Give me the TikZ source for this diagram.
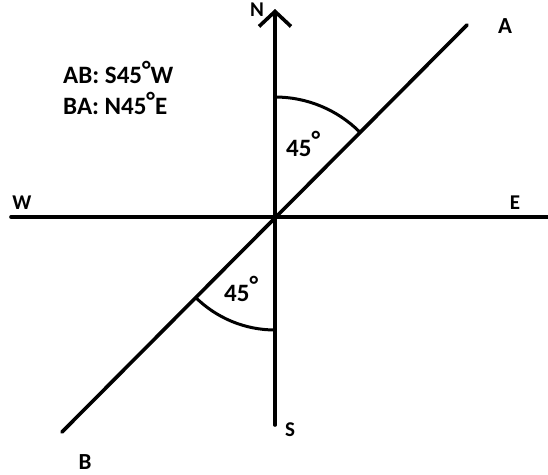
\documentclass[tikz,border=0pt]{standalone}
\usepackage{fontspec}
\setmainfont{Carlito}
\usetikzlibrary{arrows.meta}
\newcommand{\degr}{\raisebox{5pt}{°}}
\tikzset{
  axis/.style={line width=3.6pt, line cap=round},
  bearing/.style={line width=3.6pt, line cap=round},
  anglearc/.style={line width=3pt},
  dirlbl/.style={font=\fontsize{21}{21}\selectfont\bfseries, inner sep=0pt},
  anglbl/.style={font=\fontsize{25}{25}\selectfont\bfseries, inner sep=0pt},
  notelbl/.style={font=\fontsize{25}{25}\selectfont\bfseries, inner sep=0pt, anchor=west}
}
\begin{document}
\begin{tikzpicture}[x=1pt, y=-1pt]
  \useasboundingbox (0,0) rectangle (548,474);
  % centre and ends of the axes
  \coordinate (O) at (275,217);
  \coordinate (Ntop) at (275,9);
  \coordinate (Sbot) at (275,425);
  \coordinate (Wend) at (11,217);
  \coordinate (Eend) at (551,217);
  \coordinate (Aend) at (467,25);
  \coordinate (Bend) at (62,432);
  % compass axes
  \draw[axis] (Wend) -- (Eend);
  \draw[axis] (Sbot) -- (O);
  \draw[axis, -{Straight Barb[length=15pt, width=32pt, line width=3.6pt]}] (O) -- (Ntop);
  % the line AB
  \draw[bearing] (Bend) -- (Aend);
  % angle arcs
  \draw[anglearc] (O) ++(90:120pt) arc[start angle=90, end angle=45, radius=120pt];
  \draw[anglearc] (O) ++(270:113pt) arc[start angle=270, end angle=225, radius=113pt];
  % labels
  \node[dirlbl] (N) at (257,10) {N};
  \node[dirlbl] (S) at (290,430) {S};
  \node[dirlbl] (W) at (22,203) {W};
  \node[dirlbl] (E) at (515,203) {E};
  \node[dirlbl, font=\fontsize{23}{23}\selectfont\bfseries] (A) at (505,26) {A};
  \node[dirlbl, font=\fontsize{23}{23}\selectfont\bfseries] (B) at (85,462) {B};
  \node[anglbl, anchor=base west] (upang) at (286,156) {45\raisebox{8pt}{°}};
  \node[anglbl, anchor=base west] (loang) at (224,301) {45\raisebox{8pt}{°}};
  \node[notelbl] (ab) at (63,72) {AB: S45\degr W};
  \node[notelbl] (ba) at (63,103) {BA: N45\degr E};
\end{tikzpicture}
\end{document}
